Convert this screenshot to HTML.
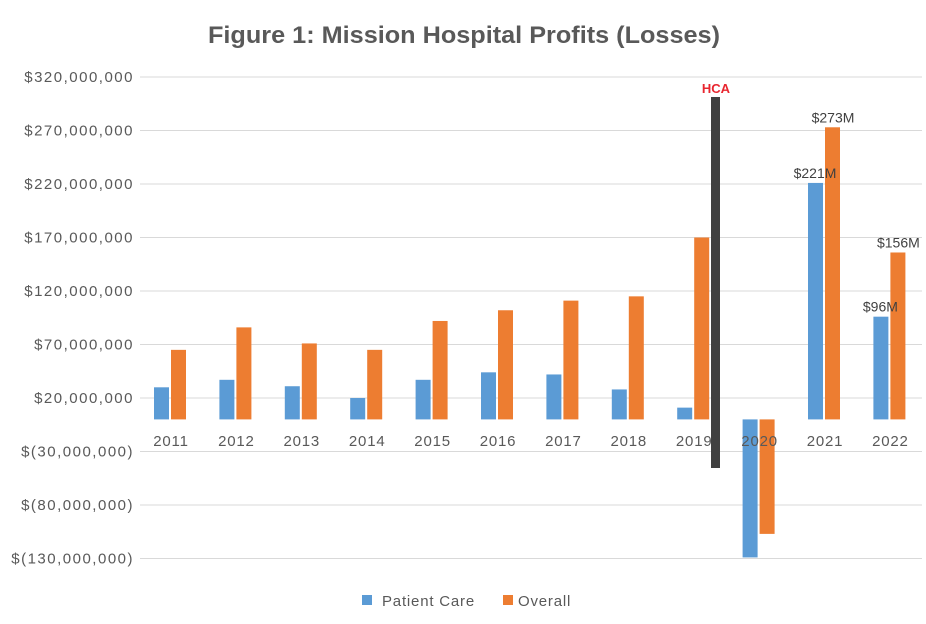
<!DOCTYPE html>
<html><head><meta charset="utf-8"><style>
body{margin:0;background:#fff;}
svg{display:block;font-family:"Liberation Sans",sans-serif;}
</style></head><body>
<svg id="chart" width="926" height="624">
<text x="464" y="43" text-anchor="middle" font-size="24" font-weight="bold" fill="#595959" textLength="512" lengthAdjust="spacingAndGlyphs">Figure 1: Mission Hospital Profits (Losses)</text>
<g id="grid"></g><g id="bars"></g><g id="labels"></g>
<rect x="711" y="97" width="9" height="371" fill="#404040"/>
<text x="716" y="93" text-anchor="middle" font-size="13" font-weight="bold" fill="#e8262f">HCA</text>
<g>
<rect x="362" y="595" width="10" height="10" fill="#5b9bd5"/>
<text x="382" y="606" font-size="15" letter-spacing="0.8" fill="#595959">Patient Care</text>
<rect x="503" y="595" width="10" height="10" fill="#ed7d31"/>
<text x="518" y="606" font-size="15" letter-spacing="0.8" fill="#595959">Overall</text>
</g>
</svg>
<script>
const categories=["2011","2012","2013","2014","2015","2016","2017","2018","2019","2020","2021","2022"];
const patientCare=[30,37,31,20,37,44,42,28,11,-129,221,96];
const overall=[65,86,71,65,92,102,111,115,170,-107,273,156];
const tickValues=[320,270,220,170,120,70,20,-30,-80,-130];
const tickLabels=["$320,000,000","$270,000,000","$220,000,000","$170,000,000","$120,000,000","$70,000,000","$20,000,000","$(30,000,000)","$(80,000,000)","$(130,000,000)"];
const blueLabels={10:"$221M",11:"$96M"};
const orangeLabels={10:"$273M",11:"$156M"};
const NS="http://www.w3.org/2000/svg";
function y(v){return 419.4-v*1.07;}
function x(i){return 170+i*65.4;}
function mk(t,a,p){const e=document.createElementNS(NS,t);for(const k in a)e.setAttribute(k,a[k]);p.appendChild(e);return e;}
const grid=document.getElementById('grid'),bars=document.getElementById('bars'),labels=document.getElementById('labels');
tickValues.forEach((v,i)=>{
  const l=mk('line',{x1:140,x2:922,y1:y(v),y2:y(v),stroke:'#d9d9d9','stroke-width':1},grid);
  
  
  const t=mk('text',{x:134,y:y(v)+5,'text-anchor':'end','font-size':15,'letter-spacing':1.5,fill:'#595959'},grid);
  t.textContent=tickLabels[i];
  
  
});
categories.forEach((c,i)=>{
  const w=15;
  const b=patientCare[i],o=overall[i];
  const r1=mk('rect',{x:x(i)-w-1,y:Math.min(y(b),y(0)),width:w,height:Math.abs(y(b)-y(0)),fill:'#5b9bd5'},bars);
  
  
  const r2=mk('rect',{x:x(i)+1,y:Math.min(y(o),y(0)),width:w,height:Math.abs(y(o)-y(0)),fill:'#ed7d31'},bars);
  
  
  const t=mk('text',{x:x(i)+1,y:446,'text-anchor':'middle','font-size':15,'letter-spacing':0.8,fill:'#595959'},labels);
  t.textContent=c;
  
  
  if(blueLabels[i]){const d=mk('text',{x:x(i)-9,y:y(b)-5,'text-anchor':'middle','font-size':14,fill:'#404040'},labels);d.textContent=blueLabels[i];
    
    }
  if(orangeLabels[i]){const d=mk('text',{x:x(i)+9,y:y(o)-5,'text-anchor':'middle','font-size':14,fill:'#404040'},labels);d.textContent=orangeLabels[i];
    
    }
});
</script>
</body></html>
